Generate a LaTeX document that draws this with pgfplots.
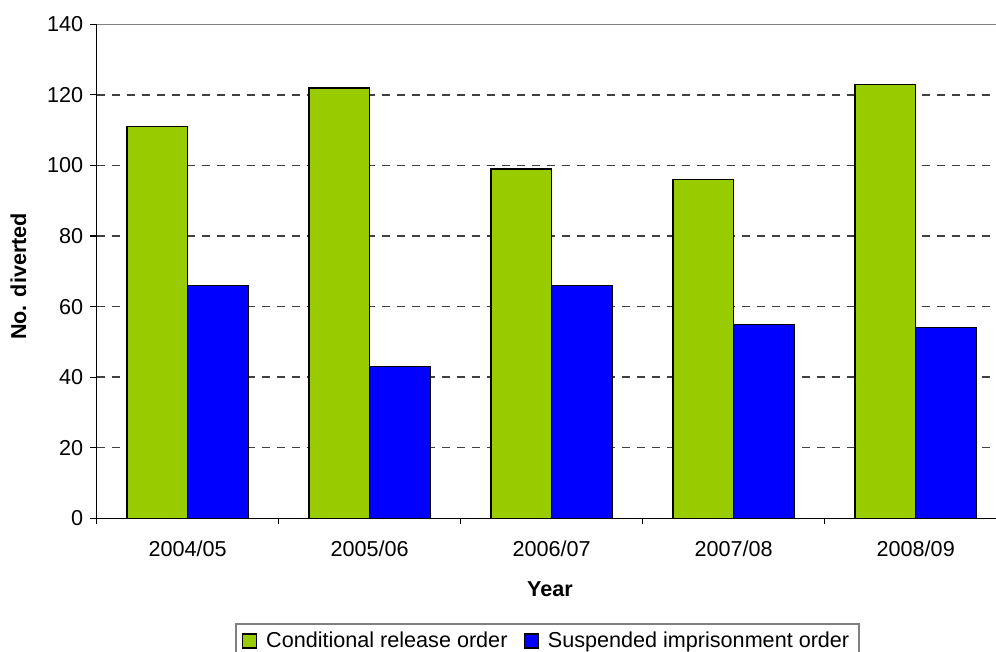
\documentclass[border=0pt]{standalone}
\usepackage{fontspec}
\setmainfont{Liberation Sans}
\usepackage{pgfplots}
\pgfplotsset{compat=1.18}
\definecolor{cgreen}{HTML}{99CC00}
\definecolor{cblue}{HTML}{0000FF}
\newcommand{\fs}{\fontsize{10.8bp}{13bp}\selectfont}
\pgfplotsset{sqlegend/.style={legend image code/.code={\draw[##1,draw=black,line width=0.7bp] (0bp,-3.5bp) rectangle (7bp,3.5bp);}}}
\begin{document}
\begin{tikzpicture}
\useasboundingbox (-48.35bp,-66.85bp) rectangle (449.65bp,259.15bp);
\clip (-48.35bp,-66.85bp) rectangle (449.65bp,259.15bp);
\begin{axis}[
  at={(0,0)}, anchor=south west,
  scale only axis, width=449.65bp, height=247bp,
  xmin=-0.5, xmax=4.441, ymin=0, ymax=140,
  axis x line*=bottom, axis y line*=left,
  x axis line style={-, black, line width=0.8bp},
  y axis line style={-, black, line width=0.8bp},
  ytick={0,20,...,140},
  xtick={0,1,2,3,4},
  xticklabels={2004/05,2005/06,2006/07,2007/08,2008/09},
  minor xtick={-0.5,0.5,1.5,2.5,3.5},
  major x tick style={draw=none},
  minor x tick style={black, line width=0.6bp},
  minor tick length=3bp,
  tick align=outside,
  major tick length=3.3bp,
  major y tick style={black, line width=0.6bp},
  ymajorgrids,
  grid style={black!75, dash pattern=on 4bp off 3.5bp, line width=0.7bp},
  /pgf/number format/assume math mode=true,
  tick label style={font=\fs},
  xticklabel style={yshift=-4.5bp},
  xlabel={\textbf{Year}},
  ylabel={\textbf{No. diverted}},
  xlabel style={font=\fs, at={(axis description cs:0.504,-0.1431)}, anchor=center},
  ylabel style={font=\fs, at={(axis description cs:-0.087,0.4895)}, anchor=center},
  legend columns=2,
  legend style={at={(axis description cs:0.5013,-0.212)}, anchor=north, draw=gray, line width=0.8bp, font=\fs,
    inner xsep=3bp, inner ysep=2bp,
    /tikz/every odd column/.append style={column sep=2.5bp},
    /tikz/every even column/.append style={column sep=6bp}},
]
\addplot[ybar, bar width=0.3335, bar shift=-0.16675, fill=cgreen, draw=black, line width=0.7bp, sqlegend]
  coordinates {(0,111) (1,122) (2,99) (3,96) (4,123)};
\addplot[ybar, bar width=0.3335, bar shift=0.16675, fill=cblue, draw=black, line width=0.7bp, sqlegend]
  coordinates {(0,66) (1,43) (2,66) (3,55) (4,54)};
\legend{Conditional release order, Suspended imprisonment order}
\draw[gray, line width=0.8bp] (rel axis cs:0,1) -- (rel axis cs:1,1);
\end{axis}
\end{tikzpicture}
\end{document}
